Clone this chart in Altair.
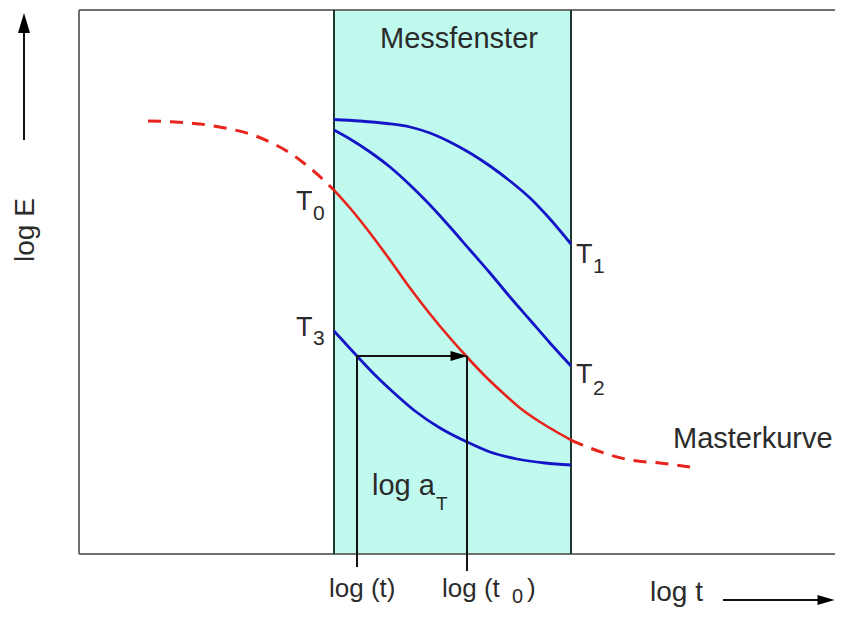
import altair as alt
import pandas as pd

# ---------------- data (schematic coordinates: x = log t, y = log E drawn top-down) ----------
master_left_x = [148, 175, 200, 225, 250, 270, 290, 310, 334]
master_left_y = [121, 122, 124, 128, 134, 142, 153, 168, 190]
master_mid_x = [334, 350, 370, 390, 410, 430, 450, 467, 485, 503, 520, 540, 555, 571]
master_mid_y = [190, 208, 233, 260, 288, 314, 338, 357, 376, 393, 408, 422, 431, 440]
master_right_x = [571, 590, 610, 630, 660, 690]
master_right_y = [440, 448, 455, 460, 463, 467]

t1_x = [334, 360, 387, 410, 430, 450, 470, 490, 510, 530, 550, 571]
t1_y = [119.5, 121, 123.5, 127, 133, 142, 153, 166, 181, 198, 219, 244]
t2_x = [334, 350, 370, 390, 410, 430, 450, 470, 490, 510, 530, 550, 571]
t2_y = [130, 139, 152, 167, 185, 205, 227, 250, 273, 297, 320, 343, 366]
t3_x = [334, 345, 357, 375, 393, 415, 440, 467, 490, 517, 545, 571]
t3_y = [331, 343, 356, 375, 392, 411, 428, 442, 452, 459, 463, 465]

frame_left, frame_right, frame_top, frame_bottom = 79, 843, 10, 554
window_x = [334, 571]               # Messfenster
log_t_x, log_t0_x, shift_y = 357, 467, 356
log_t_bottom, log_t0_bottom = 567, 571

# label texts: text, x, y, size, angle
texts = [
    ("Messfenster", 380, 48, 29, 0),
    ("Masterkurve", 673, 448, 29, 0),
    ("log E", 34, 262, 28, 270),
    ("log t", 650, 601, 28, 0),
    ("log (t)", 329, 597, 26, 0),
    ("log (t", 442, 597, 26, 0),
    ("0", 512, 603, 20, 0),
    (")", 527, 597, 26, 0),
    ("log a", 372, 495, 29, 0),
    ("T", 436, 510, 19, 0),
    ("T", 296, 210, 27, 0),
    ("0", 313, 220, 21, 0),
    ("T", 296, 336, 27, 0),
    ("3", 313, 345, 21, 0),
    ("T", 576, 263, 27, 0),
    ("1", 593, 273, 21, 0),
    ("T", 576, 383, 27, 0),
    ("2", 593, 395, 21, 0),
]

# ---------------- tables ----------------
def curve(name, xs, ys):
    return pd.DataFrame({"x": xs, "y": ys, "curve": name, "i": range(len(xs))})

dashed = pd.concat([curve("left", master_left_x, master_left_y),
                    curve("right", master_right_x, master_right_y)])
solid = curve("master", master_mid_x, master_mid_y)
blue = pd.concat([curve("T1", t1_x, t1_y), curve("T2", t2_x, t2_y), curve("T3", t3_x, t3_y)])

frame = pd.DataFrame({
    "x": [frame_left, frame_left, frame_left],
    "x2": [frame_left, frame_right, frame_right],
    "y": [frame_top, frame_top, frame_bottom],
    "y2": [frame_bottom, frame_top, frame_bottom],
})
band = pd.DataFrame({"x": [window_x[0]], "x2": [window_x[1]], "y": [frame_top], "y2": [frame_bottom]})
band_edges = pd.DataFrame({"x": window_x, "x2": window_x, "y": [frame_top] * 2, "y2": [frame_bottom] * 2})
shift_lines = pd.DataFrame({
    "x": [log_t_x, log_t0_x, log_t_x, 24, 723],
    "x2": [log_t_x, log_t0_x, 455, 24, 828],
    "y": [shift_y, shift_y, shift_y, 140, 600],
    "y2": [log_t_bottom, log_t0_bottom, shift_y, 28, 600],
})
heads = pd.DataFrame({"x": [459, 24, 826], "y": [shift_y, 23, 600], "angle": [0, 270, 0],
                      "size": [289, 400, 289]})
labels = pd.DataFrame(texts, columns=["text", "x", "y", "size", "angle"])

X = lambda f="x": alt.X(f"{f}:Q", scale=alt.Scale(domain=[8, 835], nice=False, zero=False), axis=None)
Y = lambda f="y": alt.Y(f"{f}:Q", scale=alt.Scale(domain=[8, 609], nice=False, zero=False, reverse=True), axis=None)

band_l = alt.Chart(band).mark_rect(color="#c0f9ee").encode(x=X(), x2="x2:Q", y=Y(), y2="y2:Q")
frame_l = alt.Chart(frame).mark_rule(color="#707070", strokeWidth=2).encode(x=X(), x2="x2:Q", y=Y(), y2="y2:Q")
edges_l = alt.Chart(band_edges).mark_rule(color="#1f3530", strokeWidth=2).encode(x=X(), x2="x2:Q", y=Y(), y2="y2:Q")
shift_l = alt.Chart(shift_lines).mark_rule(color="#111111", strokeWidth=2).encode(x=X(), x2="x2:Q", y=Y(), y2="y2:Q")
heads_l = alt.Chart(heads).mark_point(shape="M-1,-0.6L1,0L-1,0.6Z", filled=True, color="#000000", opacity=1,
                                      strokeWidth=0).encode(
    x=X(), y=Y(), angle=alt.Angle("angle:Q", scale=None), size=alt.Size("size:Q", scale=None))

dash_l = alt.Chart(dashed).mark_line(color="#e8231b", strokeWidth=3, strokeDash=[13, 9],
                                     interpolate="monotone").encode(x=X(), y=Y(), detail="curve:N", order="i:Q")
solid_l = alt.Chart(solid).mark_line(color="#e8231b", strokeWidth=2.6,
                                     interpolate="monotone").encode(x=X(), y=Y(), order="i:Q")
blue_l = alt.Chart(blue).mark_line(color="#1515c8", strokeWidth=2.8,
                                   interpolate="monotone").encode(x=X(), y=Y(), detail="curve:N", order="i:Q")

text_l = alt.Chart(labels).mark_text(align="left", baseline="alphabetic", font="Liberation Sans",
                                     color="#2b2b2b").encode(
    x=X(), y=Y(), text="text:N", size=alt.Size("size:Q", scale=None), angle=alt.Angle("angle:Q", scale=None))

chart = alt.layer(band_l, frame_l, edges_l, solid_l, dash_l, blue_l, shift_l, heads_l, text_l).properties(
    width=827, height=601, padding=0, autosize=alt.AutoSizeParams(type="none")
).configure_view(stroke=None)

chart.save("out.html", embed_options={"renderer": "svg", "actions": False})
